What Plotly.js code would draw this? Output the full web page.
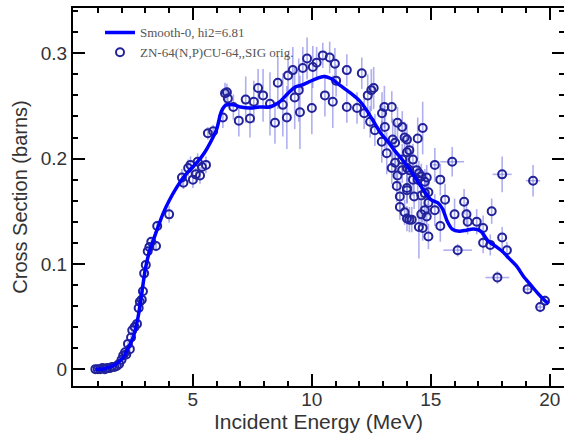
<!DOCTYPE html>
<html>
<head>
<meta charset="utf-8">
<script src="https://cdn.plot.ly/plotly-3.0.1.min.js"></script>
<style>html,body{margin:0;padding:0;background:#fff;}#chart{width:564px;height:434px;}</style>
</head>
<body>
<div id="chart"></div>
<script>
// Smooth curve (Smooth-0)
var curveE = [0.9,1.2,1.5,1.7,1.9,2.1,2.3,2.5,2.7,2.9,3.0,3.15,3.3,3.5,3.75,4.0,4.3,4.6,4.9,5.2,5.5,5.75,6.0,6.2,6.4,6.7,7.0,7.4,7.8,8.2,8.6,9.0,9.3,9.6,9.9,10.2,10.5,10.8,11.1,11.4,11.7,12.0,12.3,12.6,12.9,13.2,13.5,13.8,14.1,14.4,14.7,15.0,15.3,15.5,15.7,15.9,16.2,16.5,16.8,17.1,17.4,17.7,18.0,18.3,18.6,18.9,19.2,19.5,19.8,19.95];
var curveS = [0.000,0.000,0.002,0.004,0.007,0.012,0.021,0.031,0.050,0.080,0.095,0.110,0.120,0.133,0.148,0.160,0.172,0.182,0.190,0.197,0.206,0.216,0.228,0.245,0.251,0.251,0.249,0.248,0.249,0.249,0.253,0.262,0.268,0.270,0.273,0.276,0.278,0.276,0.271,0.266,0.261,0.255,0.246,0.235,0.224,0.216,0.207,0.199,0.190,0.180,0.170,0.161,0.158,0.152,0.140,0.133,0.131,0.132,0.133,0.131,0.122,0.117,0.112,0.105,0.098,0.088,0.080,0.072,0.065,0.062];

// Experimental points ZN-64(N,P)CU-64
var ptE = [0.9,1.0,1.1,1.2,1.3,1.4,1.5,1.6,1.7,1.8,1.9,2.0,2.07,2.15,2.2,2.27,2.35,2.4,2.45,2.55,2.65,2.72,2.77,2.85,2.9,2.95,3.02,3.1,3.17,3.25,3.45,3.5,4.0,4.54,4.6,4.8,4.9,5.0,5.12,5.2,5.3,5.38,5.55,5.63,5.85,6.26,6.35,6.43,6.47,6.7,6.93,7.22,7.4,7.56,7.74,7.95,8.24,8.45,8.57,8.78,8.95,9.0,9.2,9.28,9.45,9.5,9.62,9.8,10.0,10.04,10.2,10.46,10.55,10.75,10.88,10.97,11.02,11.47,11.47,11.9,12.1,12.2,12.35,12.5,12.6,12.45,12.65,12.95,13.05,13.36,13.07,12.94,13.4,13.6,13.8,13.9,14.0,13.5,14.66,14.45,13.15,13.5,13.8,14.0,14.1,14.25,13.36,13.6,13.8,14.0,14.1,14.4,14.5,15.17,15.9,18.0,19.3,13.57,14.0,14.25,14.45,14.6,14.75,14.83,15.4,13.7,14.0,14.3,14.6,14.75,14.9,13.7,13.9,14.1,14.0,14.2,14.6,14.5,14.66,14.83,14.9,14.75,14.9,15.17,15.4,15.6,16.0,16.4,16.5,16.55,16.93,17.2,17.56,17.2,17.5,18.0,18.2,16.13,17.8,19.07,19.6,19.8];
var ptS = [0.000,0.000,0.000,0.001,0.000,0.001,0.001,0.002,0.002,0.003,0.005,0.009,0.013,0.016,0.014,0.024,0.019,0.030,0.037,0.040,0.043,0.058,0.064,0.066,0.074,0.091,0.099,0.112,0.116,0.121,0.117,0.136,0.147,0.182,0.177,0.191,0.194,0.180,0.185,0.197,0.184,0.192,0.194,0.224,0.226,0.239,0.262,0.263,0.257,0.249,0.236,0.256,0.238,0.254,0.267,0.260,0.252,0.234,0.272,0.251,0.239,0.279,0.284,0.258,0.265,0.244,0.286,0.295,0.248,0.287,0.291,0.298,0.260,0.296,0.254,0.290,0.274,0.284,0.249,0.248,0.281,0.243,0.260,0.265,0.267,0.235,0.227,0.243,0.249,0.249,0.230,0.216,0.218,0.234,0.230,0.220,0.218,0.215,0.229,0.219,0.205,0.196,0.199,0.206,0.208,0.199,0.191,0.184,0.189,0.191,0.189,0.189,0.186,0.194,0.197,0.185,0.179,0.174,0.172,0.180,0.180,0.183,0.178,0.182,0.180,0.164,0.170,0.164,0.165,0.167,0.168,0.154,0.149,0.142,0.143,0.142,0.147,0.135,0.134,0.145,0.126,0.151,0.158,0.151,0.136,0.161,0.147,0.159,0.147,0.140,0.140,0.134,0.150,0.120,0.118,0.125,0.113,0.113,0.087,0.076,0.059,0.065];
var ptErrS = [0.001,0.001,0.001,0.001,0.001,0.001,0.001,0.001,0.001,0.002,0.002,0.002,0.002,0.002,0.002,0.002,0.002,0.003,0.003,0.003,0.003,0.003,0.003,0.003,0.003,0.004,0.004,0.004,0.004,0.004,0.005,0.005,0.008,0.008,0.006,0.008,0.008,0.008,0.006,0.008,0.008,0.006,0.008,0.006,0.006,0.010,0.010,0.008,0.008,0.012,0.015,0.022,0.018,0.020,0.018,0.025,0.030,0.020,0.025,0.030,0.030,0.020,0.022,0.030,0.030,0.035,0.020,0.020,0.025,0.020,0.015,0.012,0.020,0.015,0.025,0.015,0.015,0.015,0.015,0.015,0.015,0.015,0.020,0.020,0.020,0.015,0.015,0.020,0.020,0.015,0.020,0.020,0.020,0.015,0.015,0.015,0.015,0.020,0.025,0.020,0.020,0.015,0.015,0.015,0.015,0.015,0.015,0.015,0.012,0.012,0.012,0.012,0.012,0.016,0.014,0.017,0.015,0.015,0.015,0.015,0.012,0.012,0.012,0.012,0.015,0.015,0.012,0.012,0.012,0.012,0.012,0.012,0.012,0.012,0.012,0.012,0.012,0.030,0.012,0.012,0.012,0.012,0.012,0.015,0.015,0.015,0.015,0.012,0.012,0.012,0.012,0.012,0.012,0.010,0.010,0.010,0.008,0.006,0.006,0.005,0.005,0.005];
var ptErrE = [0,0,0,0,0,0,0,0,0,0,0,0,0,0,0,0,0,0,0,0,0,0,0,0,0,0,0,0,0,0,0,0,0,0,0,0,0,0,0,0,0,0,0,0,0,0,0,0,0,0,0,0,0,0,0,0,0,0,0,0,0,0,0,0,0,0,0,0,0,0,0,0,0,0,0,0,0,0,0,0,0,0,0,0,0,0,0,0,0,0,0,0,0,0,0,0,0,0,0,0,0,0,0,0,0,0,0,0,0,0,0,0,0,0.1,0.5,0.4,0.3,0,0,0,0,0,0,0,0,0,0,0,0,0,0,0,0,0,0,0,0,0,0,0,0,0,0,0,0,0,0,0,0,0,0,0,0,0,0,0,0,0.6,0.5,0.2,0.2,0.2];

var xTickVals = [5,10,15,20];
var xTickText = ['5','10','15','20'];
var yTickVals = [0,0.1,0.2,0.3];
var yTickText = ['0','0.1','0.2','0.3'];

var traces = [
  {
    x: ptE, y: ptS, type: 'scatter', mode: 'markers',
    name: 'ZN-64(N,P)CU-64,,SIG orig.',
    legendrank: 2,
    marker: {symbol: 'circle-open', size: 8, color: '#22229a', line: {width: 2, color: '#22229a'}},
    error_y: {type: 'data', array: ptErrS, visible: true, color: 'rgba(110,110,225,0.55)', thickness: 1.6, width: 0},
    error_x: {type: 'data', array: ptErrE, visible: true, color: 'rgba(110,110,225,0.55)', thickness: 1.6, width: 0}
  },
  {
    x: curveE, y: curveS, type: 'scatter', mode: 'lines',
    name: 'Smooth-0, hi2=6.81',
    legendrank: 1,
    line: {color: '#0000ff', width: 3.5, shape: 'spline', smoothing: 0.8}
  }
];

var axisCommon = {
  showgrid: false, zeroline: false, showline: true, linecolor: '#000', linewidth: 2,
  mirror: 'ticks', ticks: 'inside', ticklen: 12, tickwidth: 2, tickcolor: '#000',
  tickfont: {family: 'Liberation Sans, Arial, sans-serif', size: 19, color: '#333'}
};

var layout = {
  width: 564, height: 434,
  margin: {l: 73, r: 0, t: 8, b: 48},
  paper_bgcolor: '#fff', plot_bgcolor: '#fff',
  showlegend: true,
  legend: {
    x: 0.055, y: 0.975, xanchor: 'left', yanchor: 'top',
    bgcolor: 'rgba(0,0,0,0)', borderwidth: 0,
    font: {family: 'Liberation Serif, Times New Roman, serif', size: 13, color: '#555'},
    itemwidth: 30
  },
  xaxis: Object.assign({}, axisCommon, {
    range: [-0.04, 20.6],
    tickmode: 'array', tickvals: xTickVals, ticktext: xTickText,
    ticklabelstandoff: -5,
    minor: {dtick: 1, tick0: 0, ticks: 'inside', ticklen: 5, tickwidth: 2, tickcolor: '#000', showgrid: false},
    title: {text: 'Incident Energy (MeV)', font: {family: 'Liberation Sans, Arial, sans-serif', size: 21, color: '#333'}, standoff: 2}
  }),
  yaxis: Object.assign({}, axisCommon, {
    range: [-0.016, 0.343],
    tickmode: 'array', tickvals: yTickVals, ticktext: yTickText,
    minor: {dtick: 0.02, tick0: 0, ticks: 'inside', ticklen: 5, tickwidth: 2, tickcolor: '#000', showgrid: false},
    title: {text: 'Cross Section (barns)', font: {family: 'Liberation Sans, Arial, sans-serif', size: 20, color: '#333'}, standoff: 8}
  })
};

Plotly.newPlot('chart', traces, layout, {displayModeBar: false});
</script>
</body>
</html>
